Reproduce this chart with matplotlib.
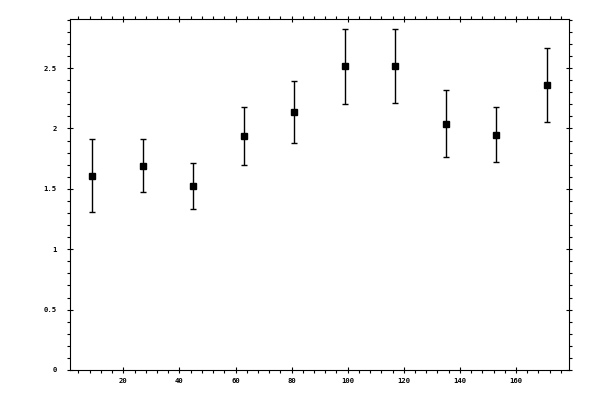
import matplotlib
matplotlib.use('Agg')
import matplotlib.pyplot as plt
from matplotlib.ticker import MultipleLocator, FormatStrFormatter, NullFormatter

# Bin centres and measured values with symmetric errors
x_vals = [9, 27, 45, 63, 81, 99, 117, 135, 153, 171]
y_vals = [1.61, 1.69, 1.525, 1.935, 2.133, 2.515, 2.515, 2.041, 1.95, 2.357]
y_err = [0.30, 0.22, 0.19, 0.24, 0.257, 0.31, 0.305, 0.274, 0.23, 0.307]

fig = plt.figure(figsize=(6, 4), dpi=100, facecolor='white')
ax = fig.add_axes([0.1167, 0.075, 0.8321, 0.877])

ax.errorbar(x_vals, y_vals, yerr=y_err, fmt='s', color='black',
            markersize=5, elinewidth=1, capsize=2, capthick=1, ecolor='black')

ax.set_xlim(1, 179)
ax.set_ylim(0, 2.905)

# Ticks on all four sides, labels only left and bottom
ax.xaxis.set_major_locator(MultipleLocator(20))
ax.xaxis.set_minor_locator(MultipleLocator(4))
ax.yaxis.set_major_locator(MultipleLocator(0.5))
ax.yaxis.set_minor_locator(MultipleLocator(0.1))
ax.yaxis.set_major_formatter(FormatStrFormatter('%g'))
ax.xaxis.set_major_formatter(FormatStrFormatter('%g'))
ax.xaxis.set_minor_formatter(NullFormatter())

ax.tick_params(which='both', top=True, right=True, width=0.8, colors='black')
ax.tick_params(which='major', direction='inout', length=5)
ax.tick_params(which='minor', direction='out', length=2.2)
ax.tick_params(axis='x', which='major', pad=3, labelsize=5.2)
ax.tick_params(axis='y', which='major', pad=7, labelsize=5.2)

# no label at 0 on the x axis
ax.set_xticks([20, 40, 60, 80, 100, 120, 140, 160])

for lbl in ax.get_xticklabels() + ax.get_yticklabels():
    lbl.set_family('DejaVu Sans Mono')
    lbl.set_fontweight('bold')

for sp in ax.spines.values():
    sp.set_linewidth(0.8)
    sp.set_color('black')

fig.savefig('out.png', dpi=100, facecolor='white')
